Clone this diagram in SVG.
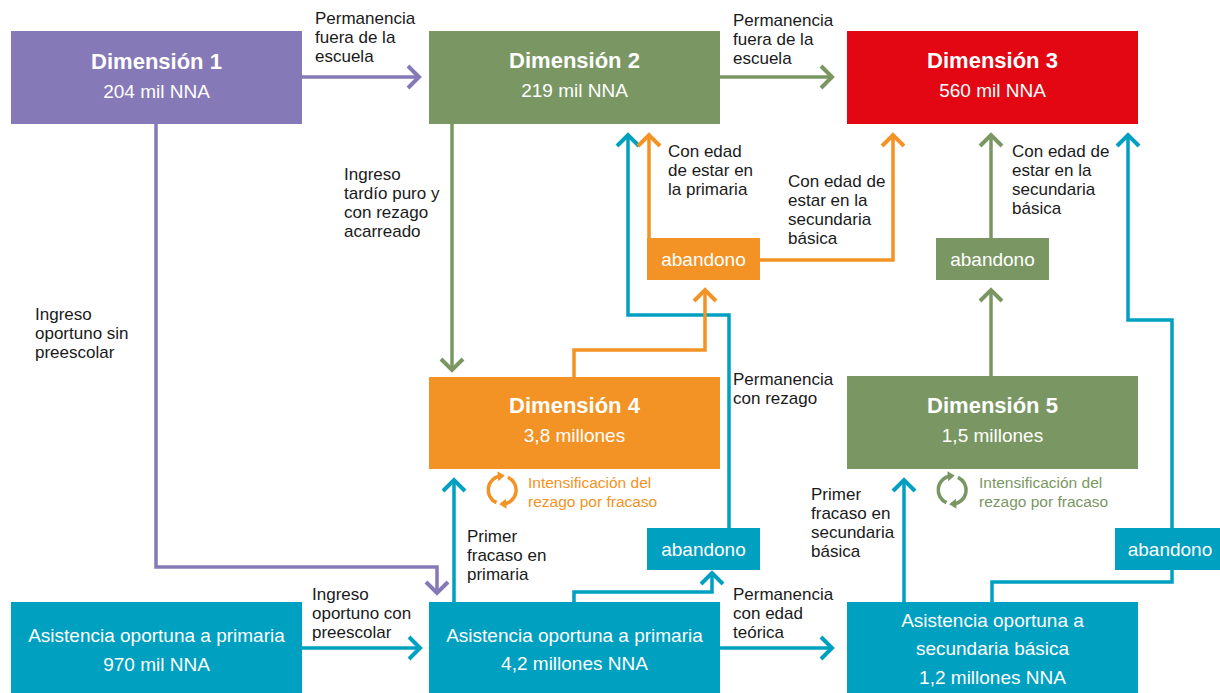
<svg xmlns="http://www.w3.org/2000/svg" width="1220" height="693" viewBox="0 0 1220 693">
<style>
text{font-family:"Liberation Sans",Arial,Helvetica,sans-serif}
.t{font-size:22px;font-weight:bold;fill:#fff;text-anchor:middle}
.s{font-size:19px;fill:#fff;text-anchor:middle}
.l{font-size:17px;fill:#1a1a1a}
.i{font-size:15.5px}
.c{fill:none;stroke-width:3.5;stroke-linejoin:miter}
.pu{fill:#8679b7}.gr{fill:#7a9763}.re{fill:#e30613}.or{fill:#f39325}.te{fill:#00a0c1}
</style>
<defs>
<marker id="ap" markerUnits="userSpaceOnUse" markerWidth="30" markerHeight="30" viewBox="-15 -15 30 30" refX="0" refY="0" orient="auto"><path d="M-11,-11 L0,0 L-11,11" fill="none" stroke="#8679b7" stroke-width="4"/></marker>
<marker id="ag" markerUnits="userSpaceOnUse" markerWidth="30" markerHeight="30" viewBox="-15 -15 30 30" refX="0" refY="0" orient="auto"><path d="M-11,-11 L0,0 L-11,11" fill="none" stroke="#7a9763" stroke-width="4"/></marker>
<marker id="ao" markerUnits="userSpaceOnUse" markerWidth="30" markerHeight="30" viewBox="-15 -15 30 30" refX="0" refY="0" orient="auto"><path d="M-11,-11 L0,0 L-11,11" fill="none" stroke="#f39325" stroke-width="4"/></marker>
<marker id="at" markerUnits="userSpaceOnUse" markerWidth="30" markerHeight="30" viewBox="-15 -15 30 30" refX="0" refY="0" orient="auto"><path d="M-11,-11 L0,0 L-11,11" fill="none" stroke="#00a0c1" stroke-width="4"/></marker>
<marker id="so" markerUnits="userSpaceOnUse" markerWidth="12" markerHeight="12" viewBox="-6 -6 12 12" refX="0" refY="0" orient="auto"><path d="M-3,-5 L4,0 L-3,5 Z" fill="#f39325"/></marker>
<marker id="sg" markerUnits="userSpaceOnUse" markerWidth="12" markerHeight="12" viewBox="-6 -6 12 12" refX="0" refY="0" orient="auto"><path d="M-3,-5 L4,0 L-3,5 Z" fill="#7a9763"/></marker>
</defs>

<g id="connectors">
<path class="c" stroke="#8679b7" d="M302,77 H419" marker-end="url(#ap)"/>
<path class="c" stroke="#7a9763" d="M720,77 H832" marker-end="url(#ag)"/>
<path class="c" stroke="#8679b7" d="M156,124 V567 H437 V593" marker-end="url(#ap)"/>
<path class="c" stroke="#7a9763" d="M452,124 V370" marker-end="url(#ag)"/>
<path class="c" stroke="#00a0c1" d="M454,602 V480" marker-end="url(#at)"/>
<path class="c" stroke="#00a0c1" d="M574,602 V592 H712 V573" marker-end="url(#at)"/>
<path class="c" stroke="#00a0c1" d="M729,528 V315 H628 V135" marker-end="url(#at)"/>
<path class="c" stroke="#f39325" d="M574,377 V350 H705 V290" marker-end="url(#ao)"/>
<path class="c" stroke="#f39325" d="M649,238 V135" marker-end="url(#ao)"/>
<path class="c" stroke="#f39325" d="M760,260 H893 V135" marker-end="url(#ao)"/>
<path class="c" stroke="#7a9763" d="M991,238 V135" marker-end="url(#ag)"/>
<path class="c" stroke="#7a9763" d="M991,376 V290" marker-end="url(#ag)"/>
<path class="c" stroke="#00a0c1" d="M904,602 V480" marker-end="url(#at)"/>
<path class="c" stroke="#00a0c1" d="M992,602 V582 H1172 V570"/>
<path class="c" stroke="#00a0c1" d="M1172,528 V320 H1128 V135" marker-end="url(#at)"/>
<path class="c" stroke="#00a0c1" d="M302,648 H420" marker-end="url(#at)"/>
<path class="c" stroke="#00a0c1" d="M720,648 H832" marker-end="url(#at)"/>
</g>

<g id="dim1"><rect class="pu" x="11" y="31" width="291" height="93"/><text class="t" x="156.5" y="69">Dimensión 1</text><text class="s" x="156.5" y="98">204 mil NNA</text></g>
<g id="dim2"><rect class="gr" x="429" y="31" width="291" height="93"/><text class="t" x="574.5" y="68">Dimensión 2</text><text class="s" x="574.5" y="97">219 mil NNA</text></g>
<g id="dim3"><rect class="re" x="847" y="31" width="291" height="93"/><text class="t" x="992.5" y="68">Dimensión 3</text><text class="s" x="992.5" y="97">560 mil NNA</text></g>
<g id="dim4"><rect class="or" x="429" y="377" width="291" height="92"/><text class="t" x="574.5" y="413">Dimensión 4</text><text class="s" x="574.5" y="442">3,8 millones</text></g>
<g id="dim5"><rect class="gr" x="847" y="376" width="291" height="93"/><text class="t" x="992.5" y="413">Dimensión 5</text><text class="s" x="992.5" y="442">1,5 millones</text></g>
<g id="asis1"><rect class="te" x="11" y="602" width="291" height="91"/><text class="s" x="156.5" y="642">Asistencia oportuna a primaria</text><text class="s" x="156.5" y="671">970 mil NNA</text></g>
<g id="asis2"><rect class="te" x="429" y="602" width="291" height="91"/><text class="s" x="574.5" y="642">Asistencia oportuna a primaria</text><text class="s" x="574.5" y="670">4,2 millones NNA</text></g>
<g id="asis3"><rect class="te" x="847" y="602" width="291" height="91"/><text class="s" x="992.5" y="627">Asistencia oportuna a</text><text class="s" x="992.5" y="655">secundaria básica</text><text class="s" x="992.5" y="684">1,2 millones NNA</text></g>
<g id="aband-or"><rect class="or" x="647" y="238" width="113" height="42"/><text class="s" x="703.5" y="266">abandono</text></g>
<g id="aband-gr"><rect class="gr" x="936" y="238" width="113" height="42"/><text class="s" x="992.5" y="266">abandono</text></g>
<g id="aband-te1"><rect class="te" x="647" y="528" width="113" height="42"/><text class="s" x="703.5" y="556">abandono</text></g>
<g id="aband-te2"><rect class="te" x="1115" y="528" width="105" height="42"/><text class="s" x="1170" y="556">abandono</text></g>

<g id="cycle4">
<path d="M496.5,502.7 A14,14 0 0 1 500.8,476" fill="none" stroke="#f39325" stroke-width="3.5" marker-end="url(#so)"/>
<path d="M507.9,477.3 A14,14 0 0 1 503.2,504" fill="none" stroke="#f39325" stroke-width="3.5" marker-end="url(#so)"/>
</g>
<g id="cycle5">
<path d="M946.5,502.7 A14,14 0 0 1 950.8,476" fill="none" stroke="#7a9763" stroke-width="3.5" marker-end="url(#sg)"/>
<path d="M957.9,477.3 A14,14 0 0 1 953.2,504" fill="none" stroke="#7a9763" stroke-width="3.5" marker-end="url(#sg)"/>
</g>

<g id="labels">
<text class="l" x="315"><tspan x="315" y="24">Permanencia</tspan><tspan x="315" y="43">fuera de la</tspan><tspan x="315" y="62">escuela</tspan></text>
<text class="l"><tspan x="733" y="26">Permanencia</tspan><tspan x="733" y="45">fuera de la</tspan><tspan x="733" y="64">escuela</tspan></text>
<text class="l"><tspan x="344" y="180">Ingreso</tspan><tspan x="344" y="199">tardío puro y</tspan><tspan x="344" y="218">con rezago</tspan><tspan x="344" y="237">acarreado</tspan></text>
<text class="l"><tspan x="35" y="320">Ingreso</tspan><tspan x="35" y="339">oportuno sin</tspan><tspan x="35" y="358">preescolar</tspan></text>
<text class="l"><tspan x="668" y="157">Con edad</tspan><tspan x="668" y="176">de estar en</tspan><tspan x="668" y="195">la primaria</tspan></text>
<text class="l"><tspan x="788" y="187">Con edad de</tspan><tspan x="788" y="206">estar en la</tspan><tspan x="788" y="225">secundaria</tspan><tspan x="788" y="244">básica</tspan></text>
<text class="l"><tspan x="1012" y="157">Con edad de</tspan><tspan x="1012" y="176">estar en la</tspan><tspan x="1012" y="195">secundaria</tspan><tspan x="1012" y="214">básica</tspan></text>
<text class="l"><tspan x="733" y="385">Permanencia</tspan><tspan x="733" y="404">con rezago</tspan></text>
<text class="l"><tspan x="467" y="542">Primer</tspan><tspan x="467" y="561">fracaso en</tspan><tspan x="467" y="580">primaria</tspan></text>
<text class="l"><tspan x="811" y="500">Primer</tspan><tspan x="811" y="519">fracaso en</tspan><tspan x="811" y="538">secundaria</tspan><tspan x="811" y="557">básica</tspan></text>
<text class="l"><tspan x="312" y="600">Ingreso</tspan><tspan x="312" y="619">oportuno con</tspan><tspan x="312" y="638">preescolar</tspan></text>
<text class="l"><tspan x="733" y="600">Permanencia</tspan><tspan x="733" y="619">con edad</tspan><tspan x="733" y="638">teórica</tspan></text>
<text class="i" fill="#f39325"><tspan x="528" y="488">Intensificación del</tspan><tspan x="528" y="507">rezago por fracaso</tspan></text>
<text class="i" fill="#7a9763"><tspan x="979" y="488">Intensificación del</tspan><tspan x="979" y="507">rezago por fracaso</tspan></text>
</g>
</svg>
